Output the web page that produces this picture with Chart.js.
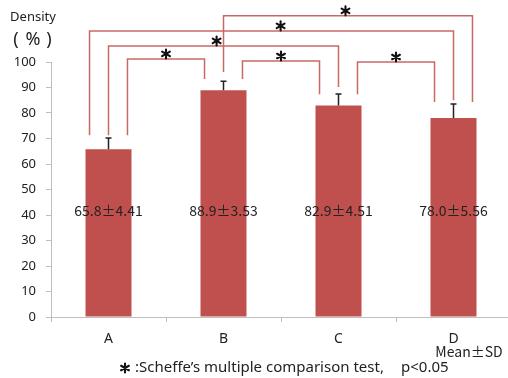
<!DOCTYPE html>
<html>
<head>
<meta charset="utf-8">
<script src="https://cdn.jsdelivr.net/npm/chart.js@4.4.0/dist/chart.umd.min.js"></script>
<style>
  html, body { margin: 0; padding: 0; background: #fff; overflow: hidden; }
  #wrap { position: absolute; left: 0; top: 0; width: 512px; height: 378px; }
</style>
</head>
<body>
<div id="wrap"><canvas id="densityChart" width="512" height="378"></canvas></div>
<script>
const groups = ['A', 'B', 'C', 'D'];
const means = [65.8, 88.9, 82.9, 78.0];
const sds = [4.41, 3.53, 4.51, 5.56];
const yTicks = [0, 10, 20, 30, 40, 50, 60, 70, 80, 90, 100];

// significant pairs (Scheffe), bracket heights and leg ends in % units
const pairFrom = [0, 1, 2, 0, 0, 1];
const pairTo = [1, 2, 3, 2, 3, 3];
const pairLevel = [101.2, 100.4, 100.0, 106.3, 112.2, 118.1];
const fromLegEnd = [71.3, 93.3, 87.4, 71.3, 71.3, 96.1];
const toLegEnd = [93.3, 87.4, 84.3, 90.2, 85.0, 84.3];
const fromSide = [1, 1, 1, 0, -1, 0];
const toSide = [-1, -1, -1, 0, 0, 1];
const starAt = [0.5, 0.5, 0.5, 0.47, 0.525, 0.49];

const FONT = "'Noto Sans', 'Noto Sans CJK JP', sans-serif";
const CJK = "'Noto Sans CJK JP', 'Noto Sans', sans-serif";

// six-spoke asterisk like the one in the original
function star(ctx, x, y) {
  ctx.save();
  ctx.strokeStyle = '#111';
  ctx.lineWidth = 2.1;
  ctx.lineCap = 'round';
  ctx.beginPath();
  for (let a = 90; a < 270; a += 60) {
    const r = a * Math.PI / 180;
    ctx.moveTo(x + Math.cos(r) * 4.5, y - Math.sin(r) * 4.5);
    ctx.lineTo(x - Math.cos(r) * 4.5, y + Math.sin(r) * 4.5);
  }
  ctx.stroke();
  ctx.restore();
}

const extras = {
  id: 'extras',
  afterDatasetsDraw(chart) {
    const ctx = chart.ctx;
    const xs = chart.scales.x;
    const ys = chart.scales.y;
    const slot = (xs.getPixelForValue(1) - xs.getPixelForValue(0)) * 0.165;

    ctx.save();

    // error bars (upper only)
    ctx.strokeStyle = '#222';
    ctx.lineWidth = 1.5;
    means.forEach((m, i) => {
      const x = xs.getPixelForValue(i);
      const y0 = ys.getPixelForValue(m);
      const y1 = ys.getPixelForValue(m + sds[i]);
      ctx.beginPath();
      ctx.moveTo(x, y0);
      ctx.lineTo(x, y1);
      ctx.moveTo(x - 3, y1);
      ctx.lineTo(x + 3, y1);
      ctx.stroke();
    });

    // mean +- sd labels
    ctx.fillStyle = '#222';
    ctx.font = '14px ' + CJK;
    ctx.textAlign = 'center';
    ctx.textBaseline = 'middle';
    means.forEach((m, i) => {
      ctx.fillText(m.toFixed(1) + '±' + sds[i].toFixed(2), xs.getPixelForValue(i), ys.getPixelForValue(41.7));
    });

    // comparison brackets
    ctx.strokeStyle = '#c66a66';
    ctx.lineWidth = 1.5;
    pairFrom.forEach((a, k) => {
      const b = pairTo[k];
      const xa = xs.getPixelForValue(a) + fromSide[k] * slot;
      const xb = xs.getPixelForValue(b) + toSide[k] * slot;
      const yt = ys.getPixelForValue(pairLevel[k]);
      ctx.beginPath();
      ctx.moveTo(xa, ys.getPixelForValue(fromLegEnd[k]));
      ctx.lineTo(xa, yt);
      ctx.lineTo(xb, yt);
      ctx.lineTo(xb, ys.getPixelForValue(toLegEnd[k]));
      ctx.stroke();
      star(ctx, xa + (xb - xa) * starAt[k], yt - 5);
    });

    // texts
    ctx.fillStyle = '#222';
    ctx.font = '13px ' + FONT;
    ctx.fillText('Density', 33, 17);
    ctx.font = '18px ' + FONT;
    ctx.fillText('(', 16, 40);
    ctx.fillText('%', 33, 40);
    ctx.fillText(')', 49, 40);
    ctx.font = '14px ' + CJK;
    ctx.fillText('Mean±SD', 469, 352);

    star(ctx, 125, 368);
    ctx.font = '15px ' + FONT;
    ctx.textAlign = 'left';
    ctx.fillText(':Scheffe’s multiple comparison test,', 135, 368);
    ctx.fillText('p<0.05', 401, 368);

    ctx.restore();
  }
};

const ctx = document.getElementById('densityChart').getContext('2d');
new Chart(ctx, {
  type: 'bar',
  data: {
    labels: groups,
    datasets: [{
      data: means,
      backgroundColor: '#c0504d',
      borderWidth: 0,
      barPercentage: 0.4,
      categoryPercentage: 1
    }]
  },
  options: {
    responsive: false,
    animation: false,
    layout: { padding: { left: 0, right: 1, top: 62, bottom: 0 } },
    plugins: {
      legend: { display: false },
      tooltip: { enabled: false }
    },
    scales: {
      x: {
        grid: { drawOnChartArea: false, offset: true, tickLength: 5, color: '#bfbfbf' },
        border: { color: '#bfbfbf' },
        ticks: { color: '#222', font: { size: 14, family: FONT }, padding: 9 },
        afterFit: s => { s.height = 61; }
      },
      y: {
        min: 0,
        max: 100,
        afterBuildTicks: s => { s.ticks = yTicks.map(v => ({ value: v })); },
        grid: { drawOnChartArea: false, tickLength: 5, color: '#bfbfbf' },
        border: { color: '#bfbfbf' },
        ticks: { color: '#222', font: { size: 13, family: FONT }, padding: 10 },
        afterFit: s => { s.width = 51; }
      }
    }
  },
  plugins: [extras]
});
</script>
</body>
</html>
